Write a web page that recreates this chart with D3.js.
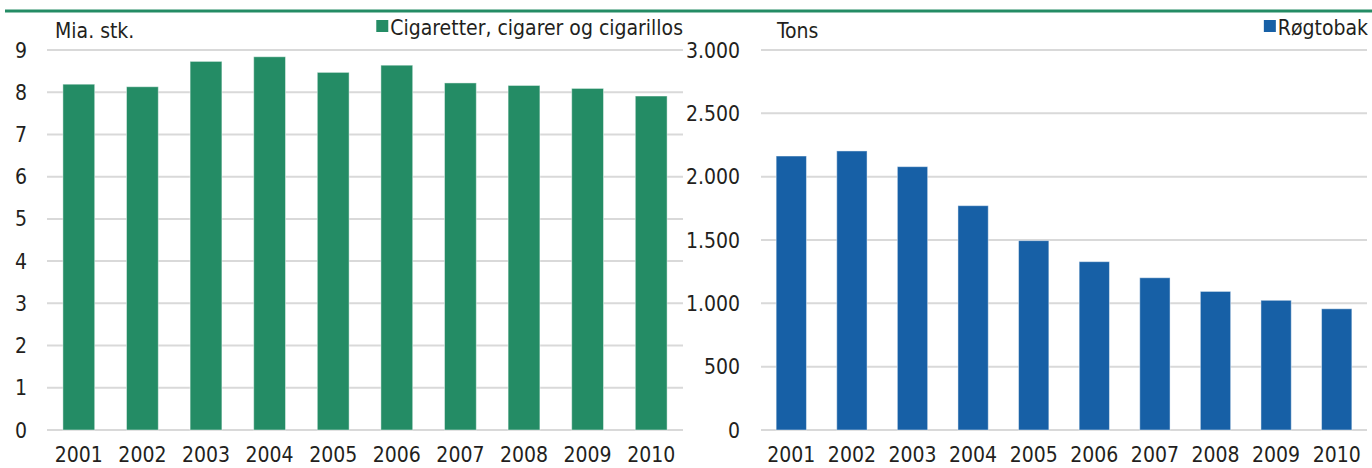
<!DOCTYPE html>
<html lang="da">
<head>
<meta charset="UTF-8">
<title>Cigaretter og røgtobak</title>
<script src="https://d3js.org/d3.v7.min.js"></script>
<style>
    body { margin: 0; background: #fff; }
    svg text {
        font-family: "Liberation Sans Narrow", "DejaVu Sans Condensed", sans-serif;
        font-size: 21px;
        fill: #231f20;
    }
    .grid line { stroke: #d9d9d9; stroke-width: 2px; }
</style>
</head>
<body>
<div id="chart"></div>
<script>
    var years = ["2001", "2002", "2003", "2004", "2005", "2006", "2007", "2008", "2009", "2010"];
    // milliarder stk.
    var cigaretter = [8.19, 8.13, 8.73, 8.84, 8.47, 8.64, 8.22, 8.16, 8.09, 7.91];
    // tons
    var roegtobak = [2163, 2203, 2079, 1771, 1495, 1329, 1202, 1094, 1024, 957];
    var leftTicks = [0, 1, 2, 3, 4, 5, 6, 7, 8, 9];
    var rightTicks = [0, 500, 1000, 1500, 2000, 2500, 3000];

    var W = 1372, H = 468;
    var green = "#248c65", blue = "#1760a6";

    var dk = d3.formatLocale({ decimal: ",", thousands: ".", grouping: [3], currency: ["", ""] });
    var fmtThousands = dk.format(",");

    var svg = d3.select("#chart").append("svg")
        .attr("width", W)
        .attr("height", H);

    // green rule under the (cut off) title
    svg.append("line")
        .attr("x1", 5).attr("x2", W)
        .attr("y1", 11).attr("y2", 11)
        .attr("stroke", green)
        .attr("stroke-width", 3);

    function panel(opts) {
        var x = d3.scaleBand()
            .domain(years)
            .range([opts.x0, opts.x1])
            .paddingInner(0.5)
            .paddingOuter(0.25);

        var y = d3.scaleLinear()
            .domain(opts.domain)
            .range([430, 50]);

        var g = svg.append("g");

        g.append("g")
            .attr("class", "grid")
            .selectAll("line")
            .data(opts.ticks)
            .join("line")
            .attr("x1", opts.x0).attr("x2", opts.x1)
            .attr("y1", d => y(d)).attr("y2", d => y(d));

        g.append("g")
            .selectAll("text")
            .data(opts.ticks)
            .join("text")
            .attr("x", opts.labelX)
            .attr("y", d => y(d))
            .attr("dy", "0.36em")
            .attr("text-anchor", "end")
            .text(opts.fmt);

        g.append("g")
            .selectAll("rect")
            .data(opts.values)
            .join("rect")
            .attr("x", (d, i) => x(years[i]))
            .attr("width", x.bandwidth())
            .attr("y", d => y(d))
            .attr("height", d => y(0) - y(d))
            .attr("fill", opts.color)
            .attr("stroke", "rgba(255,255,255,0.45)")
            .attr("stroke-width", 1);

        g.append("g")
            .selectAll("text")
            .data(years)
            .join("text")
            .attr("x", d => x(d) + x.bandwidth() / 2)
            .attr("y", 462)
            .attr("text-anchor", "middle")
            .text(d => d);

        g.append("text")
            .attr("x", opts.unitX)
            .attr("y", 38)
            .text(opts.unit);

        // legend
        var leg = g.append("text")
            .attr("x", opts.legendRight)
            .attr("y", 35)
            .attr("text-anchor", "end")
            .text(opts.label);
        var lw = leg.node().getComputedTextLength();
        g.append("rect")
            .attr("x", opts.legendRight - lw - 14)
            .attr("y", 20)
            .attr("width", 12)
            .attr("height", 12)
            .attr("fill", opts.color);
    }

    panel({
        x0: 47, x1: 683,
        domain: [0, 9],
        ticks: leftTicks,
        fmt: d => d,
        labelX: 27,
        values: cigaretter,
        color: green,
        unit: "Mia. stk.",
        unitX: 55,
        label: "Cigaretter, cigarer og cigarillos",
        legendRight: 683
    });

    panel({
        x0: 761, x1: 1367,
        domain: [0, 3000],
        ticks: rightTicks,
        fmt: d => fmtThousands(d),
        labelX: 740,
        values: roegtobak,
        color: blue,
        unit: "Tons",
        unitX: 777,
        label: "Røgtobak",
        legendRight: 1368
    });
</script>
</body>
</html>
